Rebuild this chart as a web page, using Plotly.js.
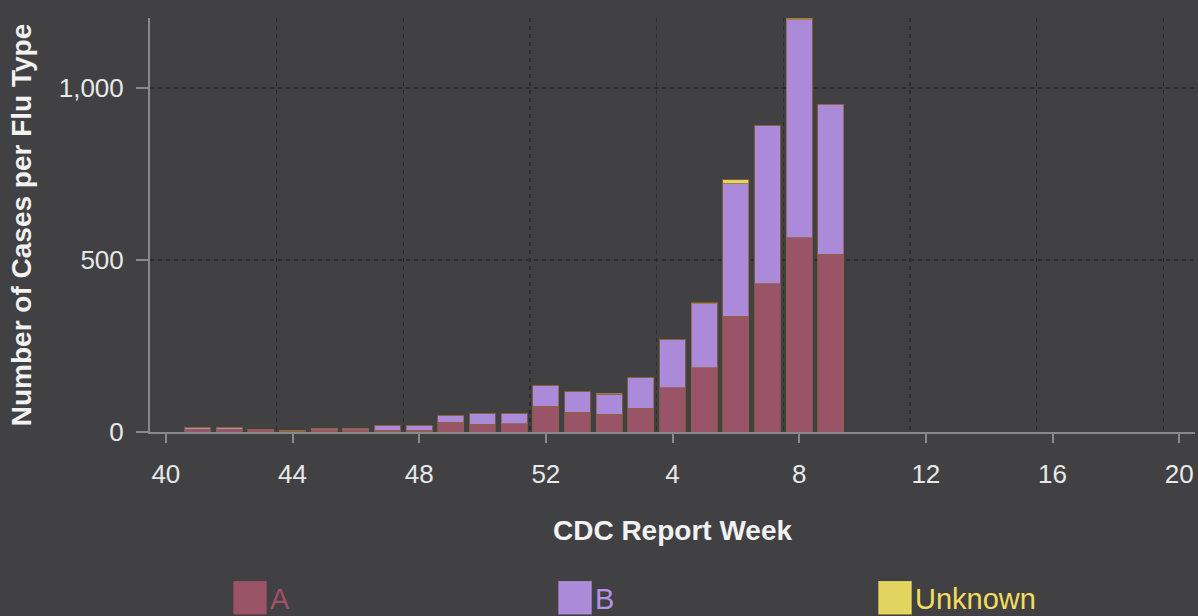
<!DOCTYPE html>
<html>
<head>
<meta charset="utf-8">
<script src="https://cdn.plot.ly/plotly-3.0.1.min.js"></script>
<style>
  html, body { margin: 0; padding: 0; background: #414143; }
  #chart { width: 1198px; height: 616px; }
</style>
</head>
<body>
<div id="chart"></div>
<script>
// All CDC report weeks shown on the axis (season: week 40 through week 20)
const allWeeks = [40,41,42,43,44,45,46,47,48,49,50,51,52,1,2,3,4,5,6,7,8,9,10,11,12,13,14,15,16,17,18,19,20];
// Weeks with reported cases
const dataWeeks = [41,42,43,44,45,46,47,48,49,50,51,52,1,2,3,4,5,6,7,8,9];
// Cases per flu type
const fluA       = [8,8,6,2,7,6,5,5,28,22,24,75,57,52,69,128,186,337,431,565,517];
const fluB       = [4,4,1,3,4,4,13,13,19,31,29,59,60,58,89,140,187,384,459,633,436];
const fluUnknown = [0,0,0,0,0,0,0,0,0,0,0,0,0,2,0,0,2,12,0,5,0];
// Tick labels every 4 weeks
const tickWeeks = [40,44,48,52,4,8,12,16,20];

const seriesNames  = ['A','B','Unknown'];
const seriesColors = ['#9a5467','#ab8ad9','#e3d462'];
const legendText   = ['#a5506c','#b592e4','#f2de5c'];
const legendIds    = ['legend','legend2','legend3'];
const legendX      = [0.0766, 0.3876, 0.6938];

const xPos = dataWeeks.map(w => allWeeks.indexOf(w));
const values = [fluA, fluB, fluUnknown];

const traces = values.map((vals, k) => ({
  type: 'bar',
  x: xPos,
  y: vals,
  name: '<span style="color:' + legendText[k] + '">' + seriesNames[k] + '</span>',
  legend: legendIds[k],
  marker: { color: seriesColors[k], line: { color: 'rgba(140,100,60,0.75)', width: 1 } },
  hoverinfo: 'y'
}));

const tickvals = tickWeeks.map(w => allWeeks.indexOf(w));
const boundaryVals = tickvals.slice(1).map(v => v - 0.5);
const font = 'Liberation Sans, Arial, sans-serif';

const layout = {
  width: 1198, height: 616,
  paper_bgcolor: '#414143',
  plot_bgcolor: '#414143',
  barmode: 'stack',
  bargap: 0.18,
  margin: { l: 150, r: 3, t: 18, b: 184, autoexpand: false },
  font: { family: font, color: '#e6e6e6' },
  showlegend: true,
  xaxis: {
    range: [-0.5, allWeeks.length - 0.5],
    tickmode: 'array',
    tickvals: tickvals,
    ticktext: tickWeeks.map(String),
    ticks: 'outside', ticklen: 9, tickwidth: 2, tickcolor: '#8a8a8a',
    ticklabelstandoff: 9,
    tickfont: { family: font, size: 26, color: '#e8e8e8' },
    showline: true, linecolor: '#8a8a8a', linewidth: 2,
    showgrid: false, zeroline: false,
    minor: {
      tickmode: 'array',
      tickvals: boundaryVals,
      ticks: '',
      showgrid: true,
      gridcolor: '#2c2c2e',
      griddash: '4px,4px',
      gridwidth: 1.5
    },
    title: { text: '<b>CDC Report Week</b>', font: { family: font, size: 28, color: '#f2f2f2' }, standoff: 32 },
    fixedrange: true
  },
  yaxis: {
    range: [0, 1203],
    tickmode: 'array',
    tickvals: [0, 500, 1000],
    tickformat: ',',
    ticks: 'outside', ticklen: 12, tickwidth: 2, tickcolor: '#8a8a8a',
    ticklabelstandoff: 7,
    tickfont: { family: font, size: 26, color: '#e8e8e8' },
    showline: true, linecolor: '#8a8a8a', linewidth: 2,
    showgrid: true, gridcolor: '#2c2c2e', griddash: '4px,4px', gridwidth: 1.5,
    zeroline: false,
    title: { text: '<b>Number of Cases per Flu Type</b>', font: { family: font, size: 28, color: '#f2f2f2' }, standoff: 19 },
    fixedrange: true
  }
};

legendIds.forEach((id, k) => {
  layout[id] = {
    orientation: 'h',
    x: legendX[k], xanchor: 'left',
    y: -0.401, yanchor: 'middle',
    font: { family: font, size: 29, color: '#e6e6e6' },
    bgcolor: 'rgba(0,0,0,0)'
  };
});

Plotly.newPlot('chart', traces, layout, { displayModeBar: false, staticPlot: true }).then(gd => {
  // enlarge legend swatches to match the reference's large squares
  gd.querySelectorAll('.legendpoints path').forEach(p => {
    p.setAttribute('d', 'M16,16H-16V-16H16Z');
    const item = p.closest('.traces');
    const d = item && item.__data__;
    const idx = d && d[0] && d[0].trace ? d[0].trace.index : null;
    if (idx !== null && idx !== undefined) {
      p.style.stroke = legendText[idx];
      p.style.strokeWidth = '1.5px';
      p.style.strokeOpacity = '0.8';
    }
  });
});
</script>
</body>
</html>
